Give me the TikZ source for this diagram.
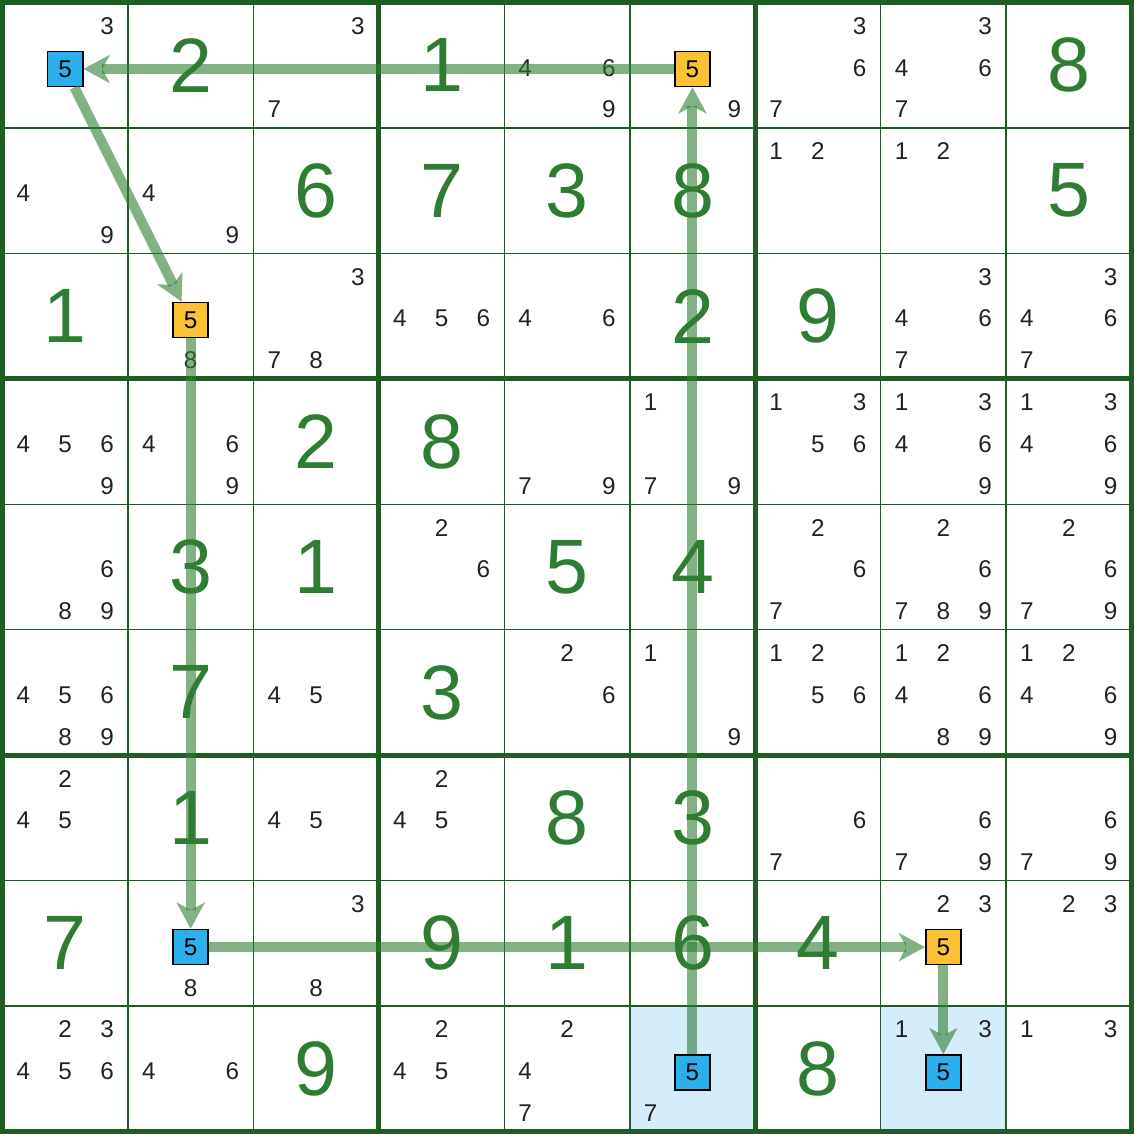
\documentclass[tikz,border=0pt]{standalone}
\usepackage{fontspec}
\setmainfont{Liberation Sans}
\usetikzlibrary{arrows.meta}
\definecolor{gridgreen}{HTML}{1E5E22}
\definecolor{digitgreen}{HTML}{2E7D32}
\definecolor{candgray}{HTML}{222222}
\definecolor{boxblue}{HTML}{2BB0EE}
\definecolor{boxgold}{HTML}{FBC333}
\definecolor{cellblue}{HTML}{D5EDFA}

\begin{document}
\begin{tikzpicture}[x=2cm, y=-2cm,
	given/.style={text=digitgreen, font=\fontsize{35}{35}\selectfont},
	cand/.style={text=candgray, inner sep=0pt, font=\fontsize{11}{11}\selectfont},
	bluebox/.style={draw=black, fill=boxblue, line width=0.7pt, minimum size=0.56cm, inner sep=0pt, font=\fontsize{11}{11}\selectfont},
	goldbox/.style={bluebox, fill=boxgold},
	link/.style={draw=digitgreen, draw opacity=0.6, fill opacity=0.6, line width=4.5pt, -{Stealth[length=12pt, width=13pt, inset=3.5pt, line width=0pt]}}]
	\useasboundingbox (-0.02,-0.02) rectangle (9.02,9.02);
	% shaded cells
	\fill[cellblue] (5,8) rectangle (6,9) (7,8) rectangle (8,9);
	% grid
	\foreach \i in {1,2,4,5,7,8}
		\draw[gridgreen, line width=0.7pt] (\i,0) -- (\i,9) (0,\i) -- (9,\i);
	\foreach \i in {3,6}
		\draw[gridgreen, line width=2.3pt] (\i,0) -- (\i,9) (0,\i) -- (9,\i);
	\draw[gridgreen, line width=2.3pt] (0,0) rectangle (9,9);
	% givens
	\foreach \r/\c/\v in {0/1/2, 0/3/1, 0/8/8, 1/2/6, 1/3/7, 1/4/3, 1/5/8, 1/8/5,
		2/0/1, 2/5/2, 2/6/9, 3/2/2, 3/3/8, 4/1/3, 4/2/1, 4/4/5, 4/5/4,
		5/1/7, 5/3/3, 6/1/1, 6/4/8, 6/5/3, 7/0/7, 7/3/9, 7/4/1, 7/5/6, 7/6/4,
		8/2/9, 8/6/8}
		\node[given] (g\r\c) at (\c+0.5,\r+0.5) {\v};
	% candidates
	\foreach \r/\c/\ds in {0/0/{3}, 0/2/{3,7}, 0/4/{4,6,9}, 0/5/{9}, 0/6/{3,6,7}, 0/7/{3,4,6,7},
		1/0/{4,9}, 1/1/{4,9}, 1/6/{1,2}, 1/7/{1,2},
		2/1/{8}, 2/2/{3,7,8}, 2/3/{4,5,6}, 2/4/{4,6}, 2/7/{3,4,6,7}, 2/8/{3,4,6,7},
		3/0/{4,5,6,9}, 3/1/{4,6,9}, 3/4/{7,9}, 3/5/{1,7,9}, 3/6/{1,3,5,6}, 3/7/{1,3,4,6,9}, 3/8/{1,3,4,6,9},
		4/0/{6,8,9}, 4/3/{2,6}, 4/6/{2,6,7}, 4/7/{2,6,7,8,9}, 4/8/{2,6,7,9},
		5/0/{4,5,6,8,9}, 5/2/{4,5}, 5/4/{2,6}, 5/5/{1,9}, 5/6/{1,2,5,6}, 5/7/{1,2,4,6,8,9}, 5/8/{1,2,4,6,9},
		6/0/{2,4,5}, 6/2/{4,5}, 6/3/{2,4,5}, 6/6/{6,7}, 6/7/{6,7,9}, 6/8/{6,7,9},
		7/1/{8}, 7/2/{3,8}, 7/7/{2,3}, 7/8/{2,3},
		8/0/{2,3,4,5,6}, 8/1/{4,6}, 8/3/{2,4,5}, 8/4/{2,4,7}, 8/5/{7}, 8/7/{1,3}, 8/8/{1,3}}
		\foreach \d in \ds
			\node[cand] (n\r\c\d) at ({\c+1/6+mod(\d-1,3)/3}, {\r+0.02+1/6+int((\d-1)/3)/3}) {\d};
	% chain cells
	\node[bluebox] (b00) at (0.5,0.53) {5};
	\node[goldbox] (y05) at (5.5,0.53) {5};
	\node[goldbox] (y21) at (1.5,2.53) {5};
	\node[bluebox] (b71) at (1.5,7.53) {5};
	\node[goldbox] (y77) at (7.5,7.53) {5};
	\node[bluebox] (b85) at (5.5,8.53) {5};
	\node[bluebox] (b87) at (7.5,8.53) {5};
	\draw[link] (b85) -- (y05);
	\draw[link] (y05) -- (b00);
	\draw[link] (b00) -- (y21);
	\draw[link] (y21) -- (b71);
	\draw[link] (b71) -- (y77);
	\draw[link] (y77) -- (b87);
\end{tikzpicture}
\end{document}
